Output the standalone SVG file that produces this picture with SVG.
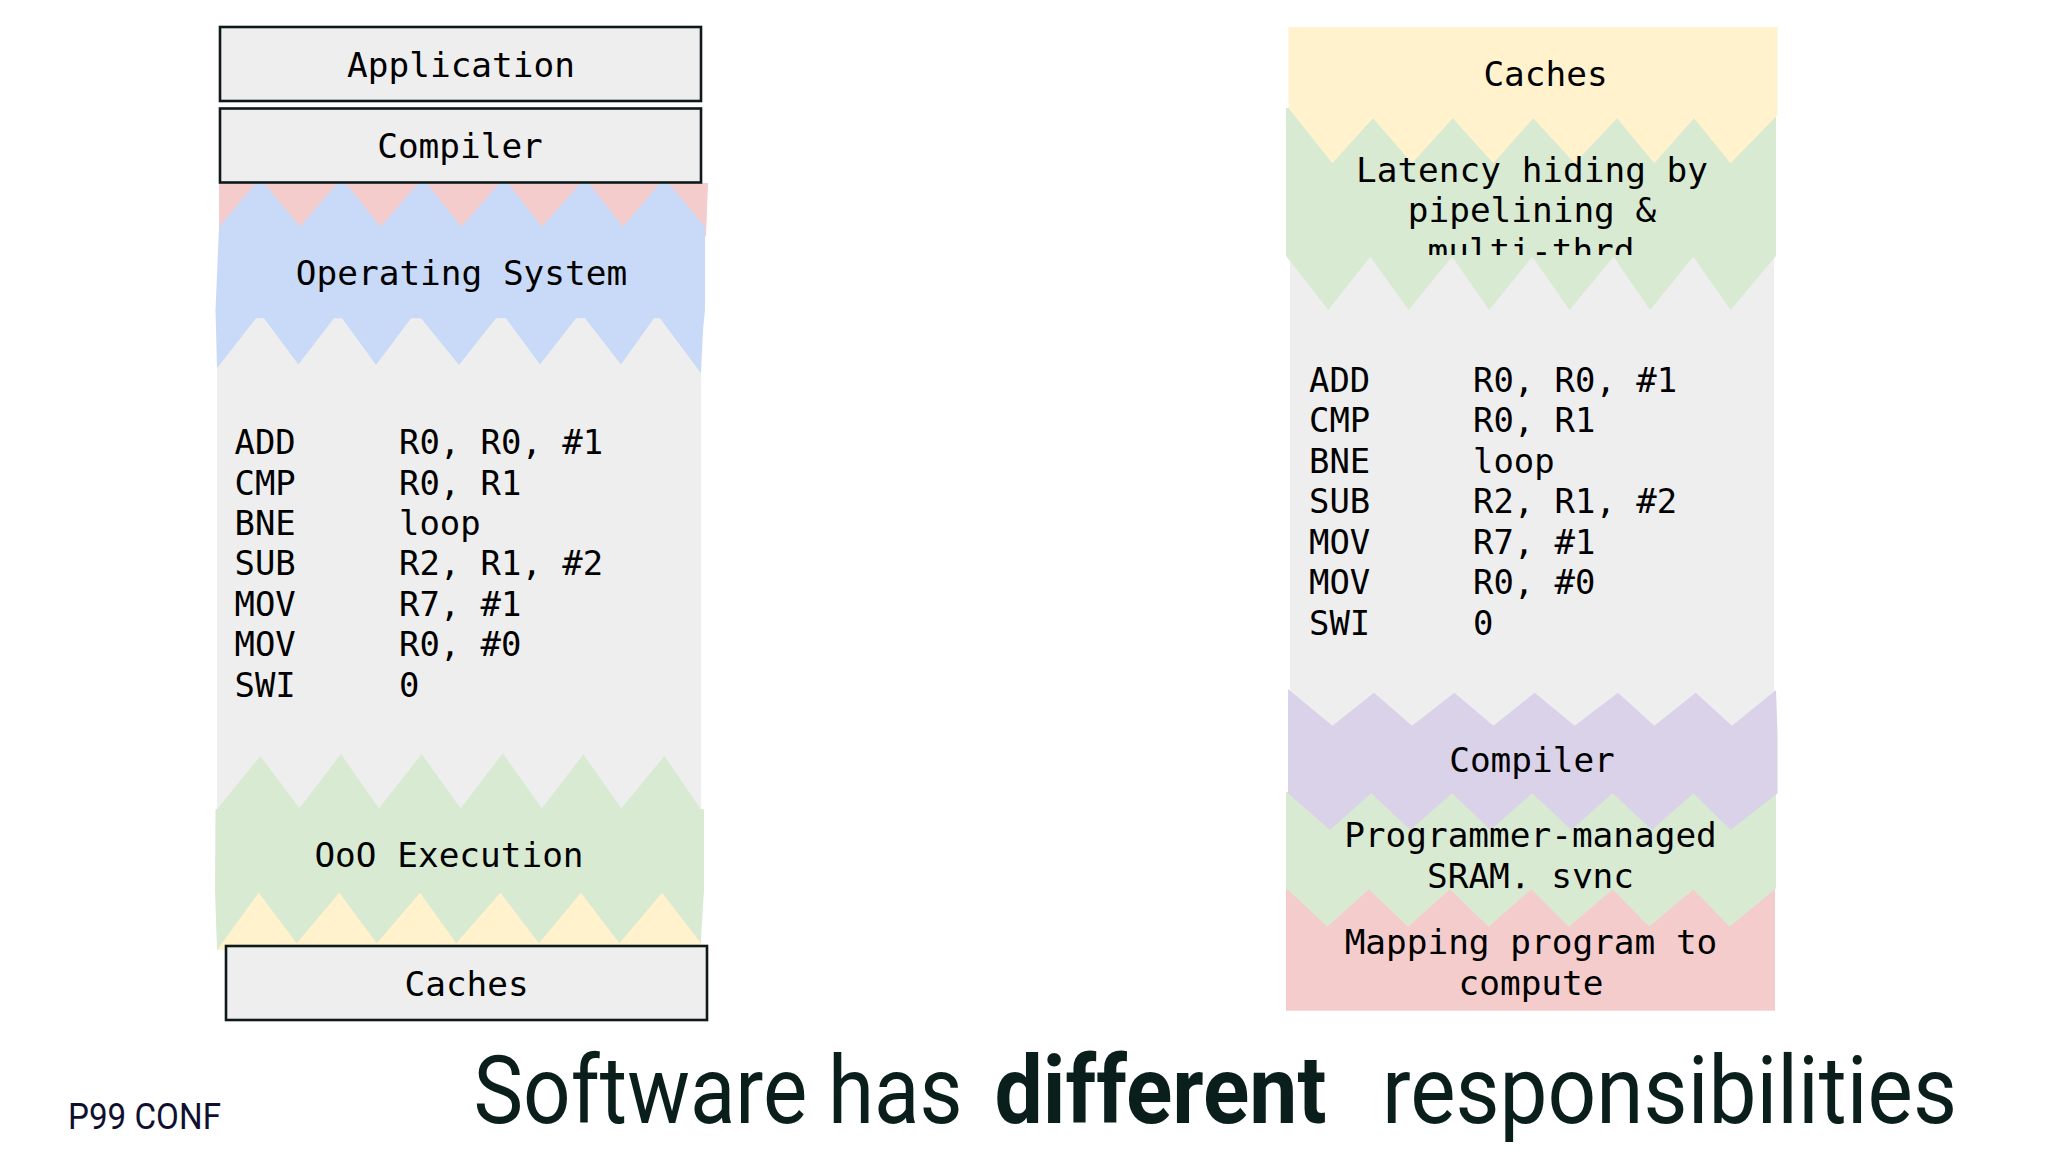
<svg xmlns="http://www.w3.org/2000/svg" width="2048" height="1152" viewBox="0 0 2048 1152">
<style>
.t{font-family:"DejaVu Sans Mono","Liberation Mono",monospace;font-size:34.4px;fill:#000;text-anchor:middle}
.c{font-family:"DejaVu Sans Mono","Liberation Mono",monospace;font-size:33.9px;fill:#000;white-space:pre}
.box{fill:#eeeeee;stroke:#0e1a1a;stroke-width:2.6}
.grey{fill:#eeeeee}.red{fill:#f4cccc}.blue{fill:#c9daf8}.green{fill:#d9ead3}.yellow{fill:#fff2cc}.purple{fill:#d9d2e9}
.title{font-family:Roboto,"Noto Sans",sans-serif;font-size:94px;fill:#0a1f1c;font-weight:400}
</style>
<defs>
<clipPath id="clipMulti"><rect x="1280" y="0" width="500" height="255"/></clipPath>
<clipPath id="clipSync"><rect x="1280" y="680" width="500" height="208.3"/></clipPath>
</defs>
<rect width="2048" height="1152" fill="#fff"/>

<g id="left-stack">
<polygon id="left-red" class="red" points="219,183 708,183 706,236 219,236"/>
<polygon id="left-yellow" class="yellow" points="217,885 701,885 701,950 217,950"/>
<polygon id="left-code-bg" class="grey" points="217,300 701,300 701,815 217,815"/>
<polygon id="left-blue" class="blue" points="219,227 260,178 300,226.7 341.6,178 380.6,226.7 422.7,178 461.4,226.7 503.9,178 541.9,226.7 585,178 623,226.7 664.4,178 705,226.7 705,310 703,330 701,373.3 660,318.3 654,318.3 621,364.5 585,318.3 576,318.3 540,364.5 506,318.3 496,318.3 459,365 421,318.3 411,318.3 376,365 342,318.3 334,318.3 298.4,364.5 264,318.3 256,318.3 217,368.3 215.5,310"/>
<polygon id="left-green" class="green" points="217,809 260.4,756 299.4,808.3 340.9,754 378.9,808.3 421.7,754 460.7,808.3 502.8,753.3 541.9,808.3 583.3,754.3 621.3,808.3 664.4,756 700.7,809 704,809.3 704,890 700.7,942.7 662,892.7 619.5,943.3 580.9,892.7 539,943.3 500.4,892.7 456.2,943.3 420,892.7 376.8,943.3 339.2,892.7 296.7,943.3 258.7,892.7 217,950 215,890 215.5,809.3"/>
</g>
<g id="application"><rect class="box" x="220" y="27" width="481" height="74"/><text class="t" x="461" y="76.7">Application</text></g>
<g id="compiler"><rect class="box" x="220" y="108.5" width="481" height="74"/><text class="t" x="460" y="157.7">Compiler</text></g>
<text id="operating-system" class="t" x="461.5" y="285">Operating System</text>
<g id="left-code">
<text class="c" x="234.5" y="454">ADD</text><text class="c" x="399" y="454">R0, R0, #1</text>
<text class="c" x="234.5" y="494.5">CMP</text><text class="c" x="399" y="494.5">R0, R1</text>
<text class="c" x="234.5" y="535">BNE</text><text class="c" x="399" y="535">loop</text>
<text class="c" x="234.5" y="575.4">SUB</text><text class="c" x="399" y="575.4">R2, R1, #2</text>
<text class="c" x="234.5" y="615.8">MOV</text><text class="c" x="399" y="615.8">R7, #1</text>
<text class="c" x="234.5" y="656.3">MOV</text><text class="c" x="399" y="656.3">R0, #0</text>
<text class="c" x="234.5" y="696.7">SWI</text><text class="c" x="399" y="696.7">0</text>
</g>
<text id="ooo-execution" class="t" x="449" y="866.7">OoO Execution</text>
<g id="left-caches"><rect class="box" x="226" y="946" width="481" height="74"/><text class="t" x="466.6" y="995.5">Caches</text></g>

<g id="right-stack">
<rect id="right-red" class="red" x="1286" y="885" width="489" height="125.7"/>
<polygon id="right-green-bottom" class="green" points="1286,792 1776,792 1776,888.3 1729.6,926.7 1693.3,889.3 1649.2,926.7 1612.6,889.3 1569,926.7 1531.3,889.3 1488.6,926.7 1450,889.3 1408,926.7 1369,889.3 1327.3,926.7 1286,888"/>
<rect id="right-grey" class="grey" x="1290" y="250" width="484" height="480"/>
<polygon id="right-purple" class="purple" points="1288,689 1332.4,725.7 1374,692.7 1412,725.7 1454.4,692.7 1493.3,725.7 1534.7,692.7 1574.7,725.7 1618,692.7 1654.3,725.7 1695.7,692.7 1732,725.7 1776,690 1777.5,733 1777.5,793.3 1730.6,830 1693.3,793.3 1652,830 1612.6,793.3 1571.3,830 1532.3,793.3 1490.6,830 1452,793.3 1410.3,830 1371.3,793.3 1330,830 1288,793.3"/>
<polygon id="right-green-top" class="green" points="1286,108 1776,108 1776,256 1730.6,310 1693.3,256.7 1650,310 1613.6,256.7 1569.6,310 1532.3,256.7 1489.3,310 1452,256.7 1408.6,310 1370.3,256.7 1328.3,310 1286,256"/>
<polygon id="right-yellow" class="yellow" points="1288.5,27 1777.5,27 1777.5,115 1730.6,163.3 1694,118.3 1654.3,163.3 1617,118.3 1574.7,163.3 1533.3,118.3 1493.3,163.3 1452.7,118.3 1412,163.3 1373,118.3 1332.4,163.3 1288.5,108"/>
</g>
<text id="right-caches" class="t" x="1545.5" y="85.7">Caches</text>
<g id="latency">
<text class="t" x="1532" y="181.7">Latency hiding by</text>
<text class="t" x="1532" y="222">pipelining &amp;</text>
<text class="t" x="1531" y="262.5" clip-path="url(#clipMulti)">multi-thrd</text>
</g>
<g id="right-code">
<text class="c" x="1309" y="391.7">ADD</text><text class="c" x="1473" y="391.7">R0, R0, #1</text>
<text class="c" x="1309" y="432.2">CMP</text><text class="c" x="1473" y="432.2">R0, R1</text>
<text class="c" x="1309" y="472.8">BNE</text><text class="c" x="1473" y="472.8">loop</text>
<text class="c" x="1309" y="513.3">SUB</text><text class="c" x="1473" y="513.3">R2, R1, #2</text>
<text class="c" x="1309" y="553.9">MOV</text><text class="c" x="1473" y="553.9">R7, #1</text>
<text class="c" x="1309" y="594.4">MOV</text><text class="c" x="1473" y="594.4">R0, #0</text>
<text class="c" x="1309" y="635">SWI</text><text class="c" x="1473" y="635">0</text>
</g>
<text id="right-compiler" class="t" x="1532" y="772">Compiler</text>
<g id="programmer">
<text class="t" x="1530.5" y="847">Programmer-managed</text>
<text class="t" x="1530.5" y="888" clip-path="url(#clipSync)">SRAM, sync</text>
</g>
<g id="mapping">
<text class="t" x="1531" y="954.3">Mapping program to</text>
<text class="t" x="1531" y="994.8">compute</text>
</g>

<g id="footer">
<text x="68" y="1129" font-family="Roboto,sans-serif" font-size="36.6" font-weight="400" fill="#0f1030" textLength="153" lengthAdjust="spacingAndGlyphs">P99 CONF</text>
<text class="title" x="473.5" y="1123.3" textLength="489" lengthAdjust="spacingAndGlyphs">Software has</text>
<text class="title" x="994.5" y="1123.3" style="font-weight:700" textLength="332" lengthAdjust="spacingAndGlyphs">different</text>
<text class="title" x="1382" y="1123.3" textLength="575" lengthAdjust="spacingAndGlyphs">responsibilities</text>
</g>
</svg>
